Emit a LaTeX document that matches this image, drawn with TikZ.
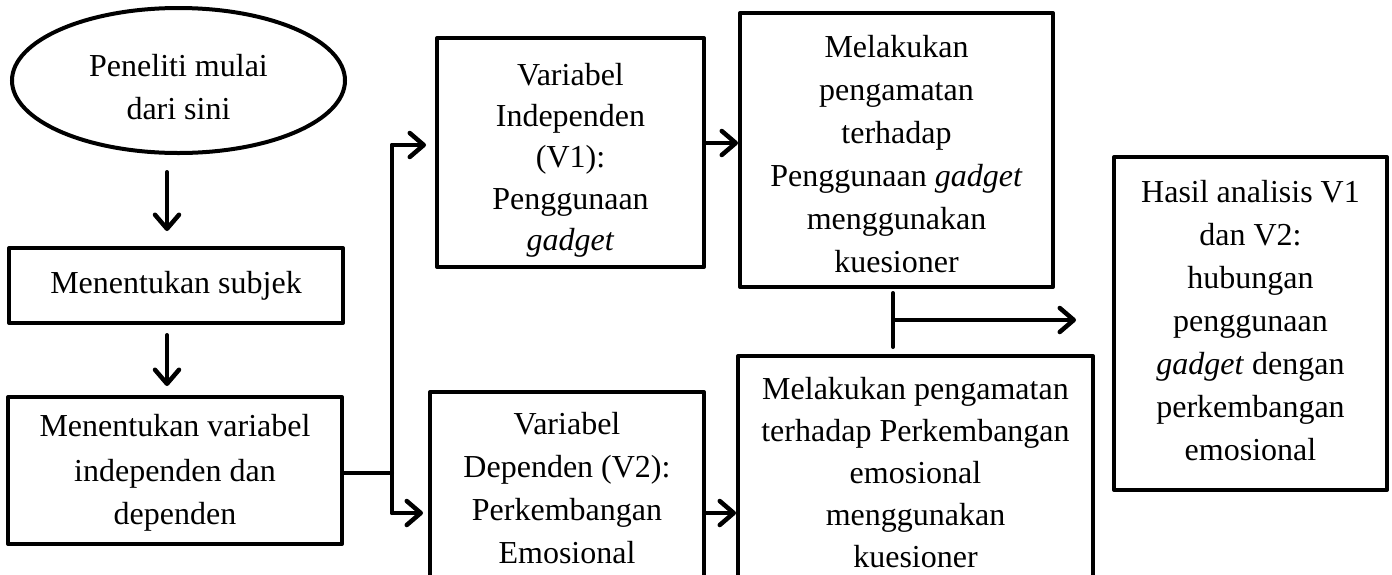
\documentclass[tikz,border=0pt]{standalone}
\usepackage{fontspec}
\setmainfont{Liberation Serif}
\usetikzlibrary{arrows.meta,shapes.geometric}
\newcommand{\txtshift}[2]{\raisebox{-#1}[\height][\depth]{\begin{tabular}{@{}c@{}}#2\end{tabular}}}
\tikzset{
  every node/.style={font=\fontsize{32}{43}\selectfont, align=center, inner sep=0pt},
  boxnode/.style={draw, line width=4pt, rectangle, line join=round},
  ovalnode/.style={draw, line width=4pt, ellipse},
  conn/.style={line width=4pt, line cap=round, line join=round},
  arr/.style={conn, -{Straight Barb[length=14pt,width=24pt,line width=4.5pt,round]}},
}
\begin{document}
\begin{tikzpicture}[x=1pt,y=-1pt]
\useasboundingbox (0,0) rectangle (1392,574);
\clip (0,0) rectangle (1392,574);
\fill[white] (0,0) rectangle (1392,574);

\node[ovalnode, minimum width=333pt, minimum height=145pt] (start) at (178.5,80.5) {\txtshift{9pt}{Peneliti mulai\\dari sini}};
\node[boxnode, minimum width=334pt, minimum height=75pt] (subj) at (176,285.5) {Menentukan subjek};
\node[boxnode, minimum width=334pt, minimum height=147pt] (var) at (175,470.5) {\txtshift{1pt}{Menentukan variabel\\[2pt]independen dan\\dependen}};
\node[boxnode, minimum width=267pt, minimum height=229pt] (v1) at (570.5,152.5) {\txtshift{7pt}{Variabel\\[-2pt]Independen\\[-2pt](V1):\\[-1pt]Penggunaan\\[-2pt]\textit{gadget}}};
\node[boxnode, minimum width=274pt, minimum height=192pt] (v2) at (567,488) {Variabel\\Dependen (V2):\\Perkembangan\\Emosional};
\node[boxnode, minimum width=355pt, minimum height=240pt] (o2) at (915.5,476) {\txtshift{-1pt}{Melakukan pengamatan\\[-1pt]terhadap Perkembangan\\[-1pt]emosional\\[-1pt]menggunakan\\[-1pt]kuesioner}};
\node[boxnode, minimum width=313pt, minimum height=274pt] (o1) at (896.5,150) {\txtshift{6pt}{Melakukan\\pengamatan\\terhadap\\Penggunaan \textit{gadget}\\menggunakan\\kuesioner}};
\node[boxnode, minimum width=273pt, minimum height=333pt] (res) at (1250.5,323.5) {\txtshift{-1pt}{Hasil analisis V1\\dan V2:\\hubungan\\penggunaan\\\textit{gadget} dengan\\perkembangan\\emosional}};

% left column arrows
\draw[arr, shorten <=17pt, shorten >=15pt] (start.south -| 167,0) -- (subj.north -| 167,0);
\draw[arr, shorten <=10pt, shorten >=9pt] (subj.south -| 167,0) -- (var.north -| 167,0);

% split to V1 and V2
\coordinate (jm) at (392,473);
\coordinate (jt) at (392,145);
\coordinate (jb) at (392,513);
\draw[conn] (var.east |- jm) -- (jm);
\draw[conn] (jt) -- (jb);
\draw[arr, shorten >=9pt] (jt) -- (v1.west |- jt);
\draw[arr, shorten >=5pt] (jb) -- (v2.west |- jb);

% V -> observation
\draw[arr] (v1.east |- 0,143) -- (o1.west |- 0,143);
\draw[arr] (v2.east |- 0,513) -- (o2.west |- 0,513);

% observations -> result
\coordinate (mt) at (893,293);
\coordinate (mm) at (893,320);
\coordinate (mb) at (893,347);
\draw[conn] (mt) -- (mb);
\draw[arr, shorten >=36pt] (mm) -- (res.west |- mm);
\end{tikzpicture}
\end{document}
